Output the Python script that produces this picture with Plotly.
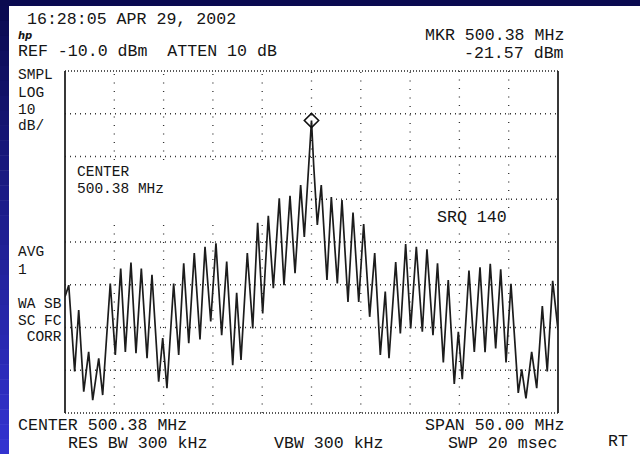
import plotly.graph_objects as go

CENTER_MHZ = 500.38
SPAN_MHZ = 50.0
REF_DBM = -10.0
DB_PER_DIV = 10.0
MKR_FREQ = [500.38]
MKR_LEVEL = [-21.57]

trace_freq = [
    475.38, 475.76, 476.36, 476.77, 477.28, 477.78, 478.19, 478.80, 479.20, 479.97,
    480.48, 481.03, 481.50, 482.07, 482.58, 483.12, 483.70, 484.20, 484.88, 485.29,
    485.72, 486.40, 486.91, 487.42, 487.93, 488.49, 489.07, 489.58, 490.16, 490.69,
    491.27, 491.78, 492.39, 492.79, 493.23, 493.87, 494.42, 494.92, 495.43, 496.00,
    496.51, 497.11, 497.59, 498.20, 498.71, 499.28, 499.65, 500.13, 500.38, 500.60,
    500.97, 501.37, 501.95, 502.39, 503.00, 503.47, 504.08, 504.59, 505.17, 505.67,
    506.28, 506.79, 507.36, 507.86, 508.24, 508.92, 509.39, 509.93, 510.44, 511.01,
    511.62, 512.09, 512.70, 513.16, 513.75, 514.25, 514.86, 515.27, 515.67, 516.35,
    516.89, 517.47, 517.98, 518.51, 519.06, 519.57, 520.11, 520.61, 521.35, 521.70,
    522.13, 522.71, 523.22, 523.79, 524.29, 524.84, 525.38,
]
trace_dbm = [
    -62.8, -60.1, -80.3, -65.9, -85.0, -75.7, -87.0, -77.2, -85.8, -59.7,
    -76.4, -56.2, -75.7, -54.8, -76.0, -56.2, -77.2, -57.7, -82.7, -72.5,
    -84.2, -59.7, -76.4, -55.0, -73.7, -52.6, -72.8, -51.1, -68.6, -50.3,
    -71.8, -54.6, -78.8, -61.9, -77.6, -52.6, -70.2, -45.5, -66.7, -43.9,
    -60.8, -39.8, -60.1, -39.2, -57.3, -36.7, -48.8, -32.0, -21.57, -32.0,
    -46.0, -36.7, -58.9, -39.5, -59.7, -40.2, -64.0, -43.1, -64.0, -45.8,
    -67.5, -52.6, -76.4, -61.6, -77.2, -54.7, -71.4, -50.5, -70.2, -51.1,
    -71.0, -51.7, -71.8, -55.0, -78.2, -58.9, -83.2, -71.0, -82.1, -56.7,
    -75.7, -55.9, -75.8, -55.1, -74.9, -56.4, -78.2, -59.8, -85.3, -79.8,
    -86.6, -75.7, -84.2, -65.0, -80.3, -59.1, -70.6,
]

# ---------------- figure geometry ----------------
W, H = 640, 454
L, R, T, B = 65, 82, 71, 41
PW, PH = W - L - R, H - T - B


def px(x):
    return (x - L) / PW


def py(y):
    return (H - B - y) / PH


FAM = "Liberation Mono, DejaVu Sans Mono, monospace"
FONT = dict(family=FAM, size=16.6, color="#151515")
FONT_S = dict(family=FAM, size=14.5, color="#151515")
NB = "\u00a0"

fig = go.Figure()
fig.add_trace(go.Scatter(x=trace_freq, y=trace_dbm, mode="lines",
                         line=dict(color="#1c1c1c", width=1.7), hoverinfo="skip"))
fig.add_trace(go.Scatter(x=MKR_FREQ, y=MKR_LEVEL, mode="markers",
                         marker=dict(symbol="diamond-open", size=11, color="#111",
                                     line=dict(width=1.6, color="#111")), hoverinfo="skip"))

shapes = []
DOT_H = "1px,4px"
DOT_V = "1px,7.5px"
GC = "#333"

# horizontal graticule lines (interior)
for k in range(1, 8):
    yf = k / 8
    x0 = px(306) if k == 5 else 0
    shapes.append(dict(type="line", xref="paper", yref="paper", x0=x0, x1=1, y0=yf, y1=yf,
                       line=dict(color=GC, width=1.3, dash=DOT_H), layer="below"))

# vertical graticule lines (interior), with blanked areas behind annotations
for k in range(1, 10):
    xf = k / 10
    segs = [(0, 1)]
    if 1 <= k <= 4:
        segs = [(0, py(222)), (py(160), 1)]
    elif k in (8, 9):
        segs = [(0, py(232)), (py(208), 1)]
    for a, b in segs:
        shapes.append(dict(type="line", xref="paper", yref="paper", x0=xf, x1=xf, y0=a, y1=b,
                           line=dict(color=GC, width=1.3, dash=DOT_V), layer="below"))

# frame: solid left/right, dense dotted top/bottom
for xf in (0, 1):
    shapes.append(dict(type="line", xref="paper", yref="paper", x0=xf, x1=xf, y0=0, y1=1,
                       line=dict(color="#222", width=1.8)))
for yf in (0, 1):
    shapes.append(dict(type="line", xref="paper", yref="paper", x0=0, x1=1, y0=yf, y1=yf,
                       line=dict(color="#222", width=1.3, dash="1px,2px")))

# slide decoration: dark top band and blue gradient strip on the left
shapes.append(dict(type="rect", xref="paper", yref="paper", x0=px(0), x1=px(W), y0=py(0), y1=py(6),
                   fillcolor="#0a0a50", line=dict(width=0)))
N = 30
c0, c1 = (10, 10, 80), (52, 52, 210)
for i in range(N):
    t = (i + 0.5) / N
    col = "rgb(%d,%d,%d)" % tuple(int(c0[j] + (c1[j] - c0[j]) * t) for j in range(3))
    y0p = 6 + (H - 6) * i / N
    y1p = 6 + (H - 6) * (i + 1) / N + 0.5
    shapes.append(dict(type="rect", xref="paper", yref="paper", x0=px(0), x1=px(9),
                       y0=py(y0p), y1=py(y1p), fillcolor=col, line=dict(width=0)))

annotations = []


def txt(s, x, y, anchor="left", font=None):
    annotations.append(dict(text=s.replace(" ", NB), x=px(x), y=py(y), xref="paper", yref="paper",
                            xanchor=anchor, yanchor="middle", showarrow=False,
                            font=font or FONT, align="left"))


txt("16:28:05 APR 29, 2002", 25, 20)
txt("<i><b>hp</b></i>", 16, 36, font=dict(family="DejaVu Sans", size=10, color="#151515"))
txt("REF -10.0 dBm  ATTEN 10 dB", 16, 52)
txt("MKR 500.38 MHz", 566, 36, "right")
txt("-21.57 dBm", 566, 54, "right")
txt("SMPL", 16, 75, font=FONT_S)
txt("LOG", 16, 93, font=FONT_S)
txt("10", 16, 109.5, font=FONT_S)
txt("dB/", 16, 126, font=FONT_S)
txt("CENTER", 75, 172, font=FONT_S)
txt("500.38 MHz", 75, 189, font=FONT_S)
txt("SRQ 140", 435, 217)
txt("AVG", 16, 252, font=FONT_S)
txt("1", 16, 270, font=FONT_S)
txt("WA SB", 16, 304, font=FONT_S)
txt("SC FC", 16, 320.5, font=FONT_S)
txt(" CORR", 16, 337, font=FONT_S)
txt("CENTER 500.38 MHz", 16, 425.5)
txt("SPAN 50.00 MHz", 566, 425.5, "right")
txt("RES BW 300 kHz", 66, 444)
txt("VBW 300 kHz", 272, 444)
txt("SWP 20 msec", 560, 444, "right")
txt("RT", 606, 441)

fig.update_layout(
    width=W, height=H, margin=dict(l=L, r=R, t=T, b=B),
    paper_bgcolor="white", plot_bgcolor="white", showlegend=False,
    xaxis=dict(range=[CENTER_MHZ - SPAN_MHZ / 2, CENTER_MHZ + SPAN_MHZ / 2], showgrid=False,
               zeroline=False, showticklabels=False, showline=False, ticks=""),
    yaxis=dict(range=[REF_DBM - 8 * DB_PER_DIV, REF_DBM], showgrid=False, zeroline=False,
               showticklabels=False, showline=False, ticks=""),
    shapes=shapes, annotations=annotations,
)

fig.write_html("out.html", config={"displayModeBar": False},
               post_script="document.body.style.margin='0px';document.body.style.overflow='hidden';")
